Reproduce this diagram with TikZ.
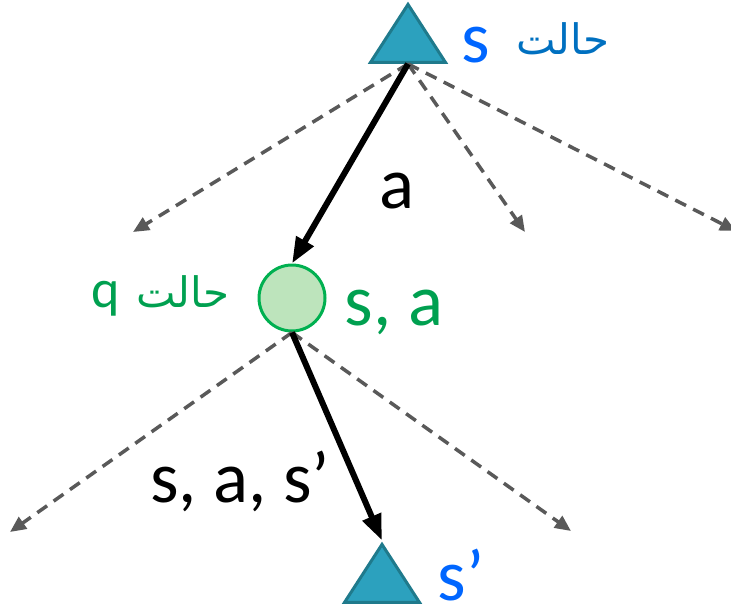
\documentclass[tikz,border=0pt]{standalone}
\usepackage{fontspec}
\setmainfont{Carlito}
\newfontfamily\arabicfont[Script=Arabic]{DejaVu Sans}
\TeXXeTstate=1
\usetikzlibrary{arrows.meta,positioning,shapes.geometric}
\definecolor{trifill}{RGB}{44,161,190}
\definecolor{triedge}{RGB}{31,122,140}
\definecolor{qfill}{RGB}{189,228,188}
\definecolor{qedge}{RGB}{0,176,80}
\definecolor{sblue}{RGB}{0,102,255}
\definecolor{fablue}{RGB}{0,112,192}
\definecolor{qgreen}{RGB}{0,160,80}
\definecolor{dashgray}{RGB}{89,89,89}

\begin{document}
\begin{tikzpicture}[x=1pt, y=-1pt,
  tri/.style={isosceles triangle, isosceles triangle stretches, shape border rotate=90,
    minimum width=75pt, minimum height=58pt, inner sep=0pt, draw=triedge, fill=trifill, line width=3pt},
  qnode/.style={circle, minimum size=66pt, inner sep=0pt, draw=qedge, fill=qfill, line width=3pt},
  lbl/.style={inner sep=0pt, anchor=base, font=\fontsize{73}{80}\selectfont},
  falbl/.style={inner sep=0pt, anchor=base, font=\fontsize{42}{48}\arabicfont},
  move/.style={-{Triangle[length=26pt,width=19pt]}, line width=6pt},
  other/.style={-{Triangle[length=16pt,width=14pt]}, line width=3.5pt, dashgray, dash pattern=on 12pt off 8pt}]
\useasboundingbox (0,0) rectangle (731,610);
\node[tri] (s) at (408,42) {};
\node[qnode] (q) at (292,298) {};
\node[tri] (sp) at (382,582) {};
\coordinate (s1) at (133,232);
\coordinate (s2) at (525,232);
\coordinate (s3) at (736,231);
\coordinate (q1) at (10,532);
\coordinate (q2) at (571,531);
\node[lbl, text=sblue] (slbl) at (476,63) {s};
\node[falbl, text=fablue] (sfa) at (563,55) {\beginR حالت\endR};
\node[lbl, text=qgreen] (qlbl) at (394,325) {s, a};
\node[lbl, text=qgreen, font=\fontsize{54}{60}\selectfont] (qname) at (106,307) {q};
\node[falbl, text=qgreen] (qfa) at (183,307) {\beginR حالت\endR};
\node[lbl, text=sblue] (splbl) at (461,600) {s’};
\draw[other] (s.lower side) -- (s1);
\draw[other] (s.lower side) -- (s2);
\draw[other] (s.lower side) -- (s3);
\draw[other] (q.south) -- (q1);
\draw[other] (q.south) -- (q2);
\draw[move] (s.lower side) -- node[lbl, pos=0.55, xshift=53pt, yshift=-35pt] (albl) {a} (q.north);
\draw[move] (q.south) -- node[lbl, pos=0.78, xshift=-122pt, yshift=-8pt] (salbl) {s, a, s’} (sp.apex);
\end{tikzpicture}
\end{document}
